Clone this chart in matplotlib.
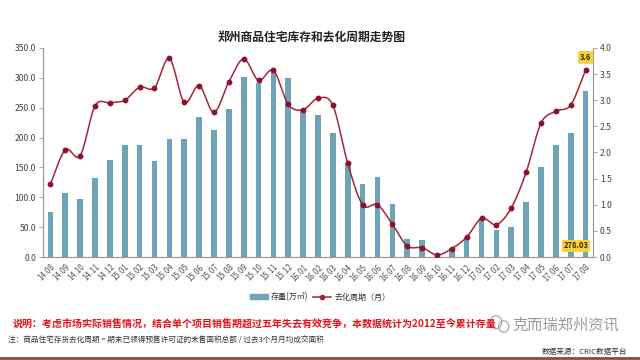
import numpy as np
import matplotlib
matplotlib.use("Agg")
import matplotlib.pyplot as plt
from matplotlib.lines import Line2D
from matplotlib.patches import Patch, Ellipse

plt.rcParams['font.family'] = ['Noto Sans CJK SC', 'DejaVu Sans']

months = ["14.08", "14.09", "14.10", "14.11", "14.12", "15.01", "15.02", "15.03", "15.04",
          "15.05", "15.06", "15.07", "15.08", "15.09", "15.10", "15.11", "15.12", "16.01",
          "16.02", "16.03", "16.04", "16.05", "16.06", "16.07", "16.08", "16.09", "16.10",
          "16.11", "16.12", "17.01", "17.02", "17.03", "17.04", "17.05", "17.06", "17.07", "17.08"]
inventory = [75, 108, 97, 132, 163, 188, 188, 161, 198,
             198, 235, 212, 247, 301, 291, 309, 300, 246,
             237, 208, 157, 123, 134, 89, 30, 29, 0,
             15, 33, 65, 46, 51, 92, 150, 187, 207, 278.03]
cycle = [1.40, 2.05, 1.94, 2.89, 2.95, 3.00, 3.25, 3.24, 3.80,
         2.96, 3.28, 2.77, 3.35, 3.79, 3.38, 3.57, 2.92, 2.82,
         3.04, 2.90, 1.79, 1.00, 1.00, 0.63, 0.21, 0.18, 0.04,
         0.16, 0.38, 0.74, 0.62, 0.94, 1.62, 2.56, 2.79, 2.91, 3.58]

bar_color = "#6FA3B6"
line_color = "#A3263C"
marker_color = "#8E1230"

fig = plt.figure(figsize=(6.4, 3.6), dpi=100)
ax = fig.add_axes([0.0672, 0.2861, 0.8594, 0.5806])
ax2 = ax.twinx()

x = np.arange(len(months))
ax.bar(x, inventory, width=0.38, color=bar_color, zorder=2)

# smooth curve through the data points (Catmull-Rom)
def catmull(xs, ys, n=16):
    xs = np.asarray(xs, float); ys = np.asarray(ys, float)
    px = np.concatenate([[2*xs[0]-xs[1]], xs, [2*xs[-1]-xs[-2]]])
    py = np.concatenate([[2*ys[0]-ys[1]], ys, [2*ys[-1]-ys[-2]]])
    outx, outy = [], []
    t = np.linspace(0, 1, n, endpoint=False)
    for i in range(1, len(px)-2):
        for arr, out in ((px, outx), (py, outy)):
            p0, p1, p2, p3 = arr[i-1], arr[i], arr[i+1], arr[i+2]
            out.extend(0.5*((2*p1) + (-p0+p2)*t + (2*p0-5*p1+4*p2-p3)*t**2 + (-p0+3*p1-3*p2+p3)*t**3))
    outx.append(xs[-1]); outy.append(ys[-1])
    return np.array(outx), np.array(outy)

sx, sy = catmull(x, cycle)
ax2.plot(sx, sy, color=line_color, lw=1.1, zorder=3)
ax2.plot(x, cycle, 'o', color=marker_color, ms=3.2, zorder=4)

ax.set_xlim(-0.5, len(months)-0.5)
ax.set_ylim(0, 350)
ax2.set_ylim(0, 4.0)
ax.set_yticks(np.arange(0, 351, 50))
ax.set_yticklabels([f"{v:.1f}" for v in np.arange(0, 351, 50)])
ax2.set_yticks(np.arange(0, 4.01, 0.5))
ax2.set_yticklabels([f"{v:.1f}" for v in np.arange(0, 4.01, 0.5)])
ax.set_xticks(x)
ax.set_xticklabels(months, rotation=45, ha='right', rotation_mode='anchor')

for a in (ax, ax2):
    a.spines['top'].set_visible(False)
    for s in ('left', 'right', 'bottom'):
        a.spines[s].set_color('#9a9a9a')
        a.spines[s].set_linewidth(0.8)
    a.tick_params(axis='y', labelsize=6.2, colors='#444444', length=3, width=0.6, pad=2)
ax.tick_params(axis='x', labelsize=5.7, colors='#555555', length=0, pad=4)
ax.tick_params(axis='y', color='#9a9a9a')
ax2.tick_params(axis='y', color='#9a9a9a')

# value labels
ax2.annotate("3.6", (x[-1], cycle[-1]), xytext=(0, 9), textcoords='offset points',
             ha='center', va='center', fontsize=5.5, fontweight='bold', color='#3a2a00',
             bbox=dict(boxstyle='round,pad=0.25', fc='#F6D13A', ec='none'), zorder=6)
ax.annotate(f"{inventory[-1]:.2f}", (x[-1], 0), xytext=(-7, 8), textcoords='offset points',
            ha='center', va='center', fontsize=5.5, fontweight='bold', color='#3a2a00',
            bbox=dict(boxstyle='round,pad=0.2', fc='#F6D13A', ec='none'), zorder=6)

fig.text(0.4875, 0.897, "郑州商品住宅库存和去化周期走势图", ha='center', va='center',
         fontsize=8.5, fontweight='bold', color='#222222')

handles = [Patch(color=bar_color), Line2D([0], [0], color=line_color, marker='o', ms=3, lw=1.1)]
fig.legend(handles, ["存量(万㎡)", "去化周期（月）"], loc='center', bbox_to_anchor=(0.5, 0.175),
           ncol=2, frameon=False, fontsize=5.8, handlelength=2.2, handleheight=0.6,
           columnspacing=0.6, handletextpad=0.4, labelcolor='#333333')

fig.text(0.02, 0.097, "说明：考虑市场实际销售情况，结合单个项目销售期超过五年失去有效竞争，本数据统计为2012至今累计存量",
         ha='left', va='center', fontsize=7.2, fontweight='bold', color='#E3121B')
fig.text(0.012, 0.056, "注：商品住宅存货去化周期 = 期末已领得预售许可证的未售面积总额 / 过去3个月月均成交面积",
         ha='left', va='center', fontsize=5.5, color='#333333')
# watermark with simple chat-bubble icon
fig.add_artist(Ellipse((0.775, 0.105), 0.018, 0.036, transform=fig.transFigure,
                       fill=False, ec='#a8a8a8', lw=0.9))
fig.add_artist(Ellipse((0.787, 0.093), 0.016, 0.032, transform=fig.transFigure,
                       fill=False, ec='#a8a8a8', lw=0.9))
fig.text(0.80, 0.097, "克而瑞郑州资讯", ha='left', va='center', fontsize=11,
         color='#9a9a9a')
fig.text(0.98, 0.022, "数据来源：CRIC数据平台", ha='right', va='center', fontsize=5.5, color='#333333')
fig.add_artist(Line2D([0, 1], [0.006, 0.006], transform=fig.transFigure, color='#8A4B3C', lw=2))

fig.savefig("out.png", dpi=100, facecolor='white')
